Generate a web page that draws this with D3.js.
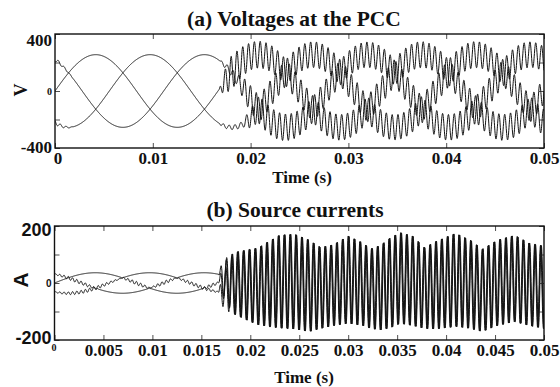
<!DOCTYPE html>
<html>
<head>
<meta charset="utf-8">
<script src="https://cdn.jsdelivr.net/npm/d3@7"></script>
<style>
  body { margin: 0; background: #fff; }
  .serif { font-family: "Liberation Serif", "Times New Roman", serif; font-weight: bold; }
  .sans { font-family: "Liberation Sans", Arial, sans-serif; font-weight: bold; }
</style>
</head>
<body>
<svg id="chart" width="560" height="387"></svg>
<script>
// ---- values ----
const fundFreq = 60;                    // Hz
const phaseDeg = [0, -120, 120];        // phases a, b, c
const voltPeak = 255;                   // V, fundamental
const currPeak = 36;                    // A, fundamental before the resonance
const hfFreq = 1680;                    // Hz, resonance frequency
const hfPhaseV = [0, 2.1, -2.1];
const hfPhaseI = [0, 0.45, -0.45];

// ripple amplitude on each voltage phase: [time (s), V]
const voltRippleA = [[0, 0], [0.0168, 0], [0.0172, 70], [0.018, 120], [0.019, 105], [0.02, 95], [0.025, 92], [0.03, 90], [0.035, 95], [0.04, 88], [0.045, 92], [0.05, 90]];
const voltRippleB = [[0, 14], [0.002, 0], [0.0168, 0], [0.017, 12], [0.0192, 20], [0.0198, 60], [0.021, 95], [0.025, 90], [0.03, 92], [0.035, 88], [0.04, 95], [0.045, 90], [0.05, 92]];
const voltRippleC = [[0, 14], [0.002, 0], [0.0168, 0], [0.0172, 15], [0.0185, 35], [0.0195, 85], [0.021, 100], [0.025, 90], [0.03, 88], [0.035, 92], [0.04, 90], [0.045, 95], [0.05, 88]];

// windows where the small current ripple shows, per phase (s)
const currWiggleA = [[0.0068, 0.0099], [0.0152, 0.0168]];
const currWiggleB = [[0, 0.0067], [0.0124, 0.0168]];
const currWiggleC = [[0, 0.0045], [0.0099, 0.0124]];
const currWiggleAmp = 6;
const currWiggleFreq = 2300;

// current band after the resonance starts: top / bottom envelope (A)
const currEnvT   = [0.0168, 0.0171, 0.0177, 0.0184, 0.0196, 0.0208, 0.0218, 0.023, 0.0245, 0.026, 0.0272, 0.0285, 0.030, 0.0315, 0.0323, 0.0333, 0.0343, 0.0353, 0.0366, 0.0378, 0.039, 0.041, 0.0425, 0.0437, 0.0452, 0.047, 0.0485, 0.05];
const currEnvTop = [5, 50, 85, 108, 116, 123, 145, 168, 172, 151, 125, 135, 165, 141, 120, 132, 159, 177, 165, 124, 147, 175, 150, 119, 150, 168, 140, 130];
const currEnvBot = [-5, -52, -86, -110, -130, -147, -153, -158, -162, -171, -160, -150, -142, -150, -160, -165, -158, -142, -150, -160, -162, -153, -160, -171, -150, -136, -150, -160];
const currOnset = 0.0168;

// axes
const timeTicksA = [0, 0.01, 0.02, 0.03, 0.04, 0.05];
const timeTicksB = [0, 0.005, 0.01, 0.015, 0.02, 0.025, 0.03, 0.035, 0.04, 0.045, 0.05];
const voltTicks = [-400, -200, 0, 200, 400];
const voltLabels = [-400, 0, 400];
const currTicks = [-200, -100, 0, 100, 200];
const currLabels = [-200, 0, 200];

const svg = d3.select("#chart");

const xA = d3.scaleLinear().domain([0, 0.05]).range([55, 544]);
const yA = d3.scaleLinear().domain([-400, 400]).range([148, 34]);
const xB = d3.scaleLinear().domain([0, 0.05]).range([54.5, 544]);
const yB = d3.scaleLinear().domain([-200, 200]).range([340, 226]);

const w = 2 * Math.PI * fundFreq;
const rad = d => d * Math.PI / 180;
const envScale = arr => d3.scaleLinear().domain(arr.map(d => d[0])).range(arr.map(d => d[1])).clamp(true);

const times = d3.range(0, 0.05 + 1e-9, 0.00002);

// voltages
const voltRipple = [voltRippleA, voltRippleB, voltRippleC].map(envScale);
const voltages = phaseDeg.map((p, k) => times.map(t => ({
  t: t,
  v: voltPeak * Math.sin(w * t + rad(p)) + voltRipple[k](t) * Math.sin(2 * Math.PI * hfFreq * t + hfPhaseV[k])
})));

// currents
const wiggles = [currWiggleA, currWiggleB, currWiggleC];
const envTop = d3.scaleLinear().domain(currEnvT).range(currEnvTop).clamp(true);
const envBot = d3.scaleLinear().domain(currEnvT).range(currEnvBot).clamp(true);
function wiggleAt(k, t) {
  let s = 0;
  wiggles[k].forEach(([a, b]) => {
    if (t >= a && t <= b) s = Math.sqrt(Math.sin(Math.PI * (t - a) / (b - a)));
  });
  return s * currWiggleAmp * Math.sin(2 * Math.PI * currWiggleFreq * t);
}
const currents = phaseDeg.map((p, k) => times.map(t => {
  const fund = currPeak * Math.sin(w * t + rad(p));
  let v;
  if (t < currOnset) {
    v = fund + wiggleAt(k, t);
  } else {
    const fade = Math.max(0, 1 - (t - currOnset) / 0.0015);
    const mid = (envTop(t) + envBot(t)) / 2;
    const amp = (envTop(t) - envBot(t)) / 2;
    v = fund * fade + mid + amp * Math.sin(2 * Math.PI * hfFreq * (t - currOnset) + hfPhaseI[k]);
  }
  return { t: t, v: v };
}));

function panel(x, y, data, opt) {
  const g = svg.append("g");
  const [x0, x1] = x.range();
  const [y1, y0] = y.range();

  const clipId = "clip" + opt.id;
  svg.append("clipPath").attr("id", clipId)
    .append("rect").attr("x", x0).attr("y", y0).attr("width", x1 - x0).attr("height", y1 - y0);

  const line = d3.line().x(d => x(d.t)).y(d => y(d.v));
  g.append("g").attr("clip-path", "url(#" + clipId + ")")
    .selectAll("path").data(data).enter().append("path")
    .attr("d", line)
    .attr("fill", "none")
    .attr("stroke", "#141414")
    .attr("stroke-width", 1);

  // ticks on all four sides, pointing in
  const bottom = g.append("g").attr("transform", "translate(0," + y1 + ")")
    .call(d3.axisBottom(x).tickValues(opt.xTicks).tickSizeInner(-5).tickSizeOuter(0).tickPadding(4)
      .tickFormat(d => d === 0 ? "0" : d3.format("")(+d.toFixed(3))));
  g.append("g").attr("transform", "translate(0," + y0 + ")")
    .call(d3.axisTop(x).tickValues(opt.xTicks).tickSizeInner(-5).tickSizeOuter(0).tickFormat(""));
  const left = g.append("g").attr("transform", "translate(" + x0 + ",0)")
    .call(d3.axisLeft(y).tickValues(opt.yTicks).tickSizeInner(-5).tickSizeOuter(0).tickPadding(3)
      .tickFormat(d => opt.yLabels.includes(d) ? d : ""));
  g.append("g").attr("transform", "translate(" + x1 + ",0)")
    .call(d3.axisRight(y).tickValues(opt.yTicks).tickSizeInner(-5).tickSizeOuter(0).tickFormat(""));

  g.selectAll(".domain").remove();
  g.selectAll(".tick line").attr("stroke", "#222").attr("stroke-width", 0.8);

  bottom.selectAll("text").attr("class", "serif").attr("font-size", 17).attr("fill", "#111")
    .filter(d => d === 0).attr("font-size", opt.xZeroSize).attr("dx", opt.xZeroDx);
  left.selectAll("text").attr("class", opt.yFont).attr("font-size", opt.yFontSize).attr("fill", "#111")
    .attr("dy", d => d === y.domain()[1] ? opt.yTopDy : d === y.domain()[0] ? opt.yBotDy : "0.32em")
    .filter(d => d === 0).attr("font-size", 10);

  g.append("rect")
    .attr("x", x0).attr("y", y0).attr("width", x1 - x0).attr("height", y1 - y0)
    .attr("fill", "none").attr("stroke", "#111").attr("stroke-width", 1.4);

  g.append("text").attr("class", "serif")
    .attr("x", opt.titleX).attr("y", opt.titleY).attr("text-anchor", "middle")
    .attr("font-size", 21.5).attr("fill", "#111").text(opt.title);

  g.append("text").attr("class", "serif")
    .attr("x", opt.xLabelX).attr("y", opt.xLabelY).attr("text-anchor", "middle")
    .attr("font-size", 17).attr("fill", "#111").text("Time (s)");

  g.append("text").attr("class", opt.yFont)
    .attr("transform", "translate(" + opt.yLabelX + "," + opt.yLabelY + ") rotate(-90)")
    .attr("text-anchor", "middle").attr("dy", "0.35em")
    .attr("font-size", opt.yLabelSize).attr("fill", "#111").text(opt.yLabel);
}

panel(xA, yA, voltages, {
  id: "a", xTicks: timeTicksA, yTicks: voltTicks, yLabels: voltLabels,
  title: "(a) Voltages at the PCC", titleX: 294, titleY: 26, xLabelX: 302, xLabelY: 183,
  yLabel: "V", yLabelX: 21, yLabelY: 90, yLabelSize: 18, yFont: "serif", yFontSize: 17,
  yTopDy: "0.65em", yBotDy: "0.24em",
  xZeroSize: 17, xZeroDx: "0.15em"
});

panel(xB, yB, currents, {
  id: "b", xTicks: timeTicksB, yTicks: currTicks, yLabels: currLabels,
  title: "(b) Source currents", titleX: 295, titleY: 217, xLabelX: 304, xLabelY: 383,
  yLabel: "A", yLabelX: 20.5, yLabelY: 280, yLabelSize: 21, yFont: "sans", yFontSize: 18,
  yTopDy: "0.5em", yBotDy: "0.17em",
  xZeroSize: 10, xZeroDx: "-0.1em"
});
</script>
</body>
</html>
